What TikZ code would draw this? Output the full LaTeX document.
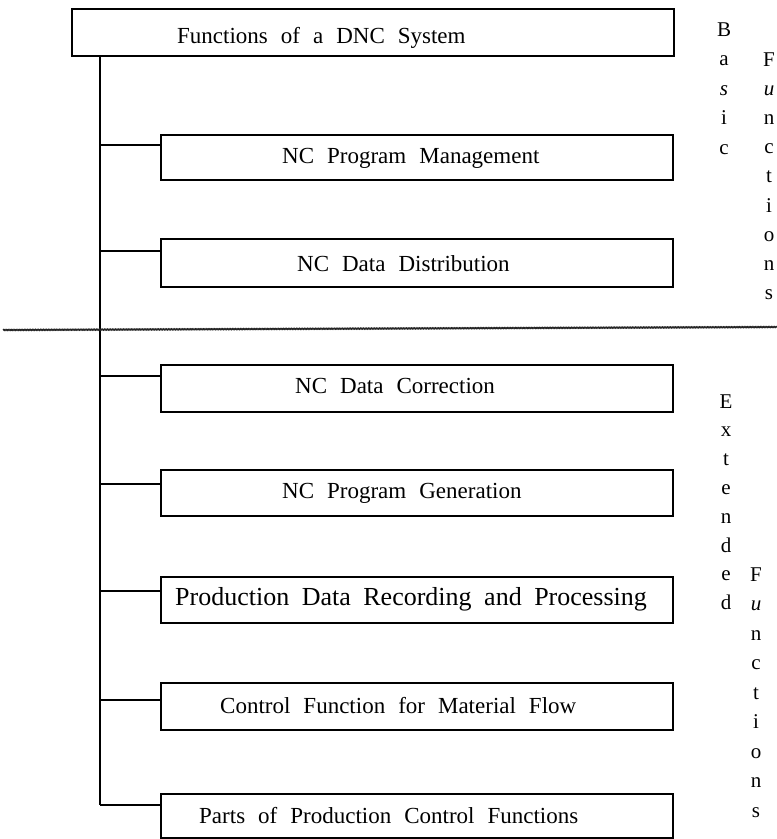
\documentclass[tikz,border=0pt]{standalone}
\usepackage{fontspec}
\setmainfont{Liberation Serif}
\usetikzlibrary{decorations.pathmorphing}
\newcommand\wsnormal{\fontsize{23}{27}\selectfont\spaceskip 13pt plus 2pt minus 1pt\relax}
\newcommand\wsbig{\fontsize{26}{30}\selectfont\spaceskip 12.5pt plus 2pt minus 1pt\relax}
\begin{document}
\begin{tikzpicture}[x=1pt,y=-1pt,
  box/.style={draw, line width=1.7pt, anchor=north west, inner sep=0pt, minimum width=512pt},
  lbl/.style={anchor=base west, inner sep=0pt, font=\wsnormal},
  biglbl/.style={anchor=base west, inner sep=0pt, font=\wsbig},
  conn/.style={line width=1.7pt},
  sepline/.style={line width=1.3pt, black!85, decorate, decoration={snake, amplitude=0.45pt, segment length=1.6pt}},
  vl/.style={anchor=base, inner sep=0pt, font=\fontsize{21}{25}\selectfont}]
\useasboundingbox (0,0) rectangle (777,839);

% boxes
\node[box, minimum width=602pt, minimum height=47pt] (title) at (71,8) {};
\node[box, minimum height=45pt] (mgmt) at (160,134) {};
\node[box, minimum height=48pt] (dist) at (160,238) {};
\node[box, minimum height=47pt] (corr) at (160,364) {};
\node[box, minimum height=46pt] (gen)  at (160,469) {};
\node[box, minimum height=46pt] (prod) at (160,576) {};
\node[box, minimum height=47pt] (ctrl) at (160,682) {};
\node[box, minimum height=44pt] (parts) at (160,793) {};

% texts
\node[lbl] (ttitle) at (177,43) {Functions of a DNC System};
\node[lbl] (tmgmt)  at (282,163) {NC Program Management};
\node[lbl] (tdist)  at (297,271) {NC Data Distribution};
\node[lbl] (tcorr)  at (295,393) {NC Data Correction};
\node[lbl] (tgen)   at (282,498) {NC Program Generation};
\node[biglbl] (tprod) at (175,605) {Production Data Recording and Processing};
\node[lbl] (tctrl)  at (220,713) {Control Function for Material Flow};
\node[lbl] (tparts) at (199,823) {Parts of Production Control Functions};

% tree connectors
\coordinate (top) at ([xshift=29pt]title.south west);
\coordinate (jm)  at ([yshift=-11pt]mgmt.north west);
\coordinate (jd)  at ([yshift=-13pt]dist.north west);
\coordinate (jc)  at ([yshift=-12pt]corr.north west);
\coordinate (jg)  at ([yshift=-15pt]gen.north west);
\coordinate (jpr) at ([yshift=-15pt]prod.north west);
\coordinate (jct) at ([yshift=-18pt]ctrl.north west);
\coordinate (jp)  at ([yshift=-12pt]parts.north west);
\draw[conn] (top) -- (top |- jp);
\foreach \j in {jm,jd,jc,jg,jpr,jct,jp} \draw[conn] (top |- \j) -- (\j);

% separator
\coordinate (sepL) at (3,330);
\coordinate (sepR) at (777,327);
\draw[sepline] (sepL) -- (sepR);

% vertical side labels
\foreach \ch [count=\i from 0] in {B,a,\textit{s},i,c}
  \node[vl] (b\i) at (724,36+29.6*\i) {\ch};
\foreach \ch [count=\i from 0] in {F,\textit{u},n,c,t,i,o,n,s}
  \node[vl] (f\i) at (769,66+29.2*\i) {\ch};
\foreach \ch [count=\i from 0] in {E,x,t,e,n,d,e,d}
  \node[vl] (e\i) at (726,408+28.8*\i) {\ch};
\foreach \ch [count=\i from 0] in {F,\textit{u},n,c,t,i,o,n,s}
  \node[vl] (g\i) at (756,581+29.5*\i) {\ch};
\end{tikzpicture}
\end{document}
